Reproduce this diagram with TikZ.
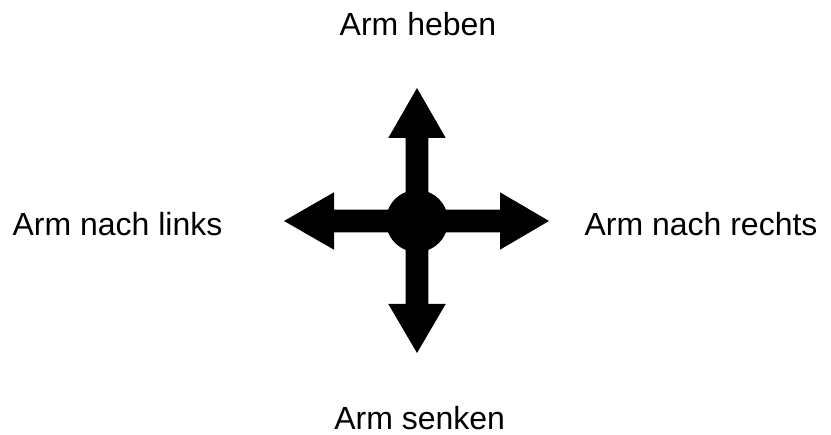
\documentclass[tikz,border=0pt]{standalone}
\usepackage{fontspec}
\setmainfont{Liberation Sans}
\begin{document}
\begin{tikzpicture}[x=1pt,y=1pt,
  lbl/.style={inner sep=0pt,anchor=base,font=\fontsize{32pt}{38pt}\selectfont},
  hub/.style={circle,fill=black,inner sep=0pt,minimum size=62pt},
  cross/.style={fill=black}]
\useasboundingbox (0,0) rectangle (831,435);
\node[hub] (c) at (417,214) {};
\begin{scope}[shift={(c.center)}]
\fill[cross] (11.3,11.3) -- (11.3,83) -- (28.7,83) -- (0,133) -- (-28.7,83) -- (-11.3,83)
  -- (-11.3,11.3) -- (-83,11.3) -- (-83,28.7) -- (-133,0) -- (-83,-28.7) -- (-83,-11.3)
  -- (-11.3,-11.3) -- (-11.3,-83) -- (-28.7,-83) -- (0,-132) -- (28.7,-83) -- (11.3,-83)
  -- (11.3,-11.3) -- (83,-11.3) -- (83,-28.7) -- (132,0) -- (83,28.7) -- (83,11.3) -- cycle;
\end{scope}
\node[lbl] (up) at (418,399) {Arm heben};
\node[lbl] (down) at (419.7,5) {Arm senken};
\node[lbl] (left) at (117.5,199.3) {Arm nach links};
\node[lbl] (right) at (701,199.3) {Arm nach rechts};
\end{tikzpicture}
\end{document}
